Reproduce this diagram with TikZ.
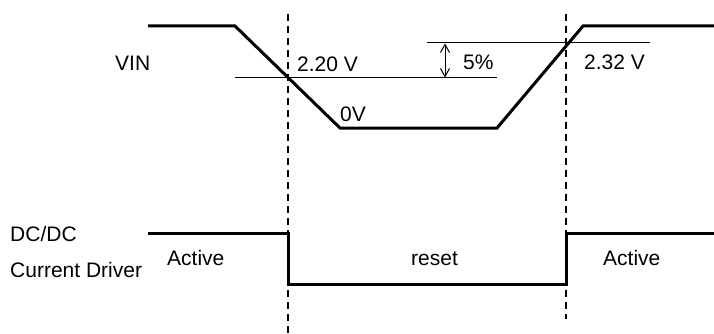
\documentclass[tikz,border=0pt]{standalone}
\usepackage{fontspec}
\setmainfont{Liberation Sans}
\usetikzlibrary{arrows.meta}
\begin{document}
\begin{tikzpicture}[x=1pt,y=-1pt,
  wave/.style={line width=3pt,line join=miter},
  thin/.style={line width=1pt},
  guide/.style={line width=1.4pt,dash pattern=on 7pt off 5pt},
  lbl/.style={anchor=base west,inner sep=0pt,font=\fontsize{21}{25}\selectfont},
  dim/.style={line width=1pt,{Straight Barb[length=8pt,width=9pt]}-{Straight Barb[length=8pt,width=9pt]}}]
\useasboundingbox (0,0) rectangle (714,334);
% VIN waveform points
\coordinate (v0) at (148,26);
\coordinate (v1) at (235,26);
\coordinate (v2) at (340,128);
\coordinate (v3) at (497,128);
\coordinate (v4) at (583,26);
\coordinate (v5) at (714,26);
\draw[wave] (v0) -- (v1) -- (v2) -- (v3) -- (v4) -- (v5);
% threshold lines
\coordinate (t1a) at (235,78);
\coordinate (t1b) at (497,78);
\coordinate (t2a) at (427,43);
\coordinate (t2b) at (650,43);
\draw[thin] (t1a) -- (t1b);
\draw[thin] (t2a) -- (t2b);
% 5% dimension arrow
\coordinate (d1) at (445,43.5);
\coordinate (d2) at (445,77.5);
\draw[dim] (d1) -- (d2);
% guide lines
\coordinate (g1a) at (288,14);
\coordinate (g1b) at (288,334);
\coordinate (g2a) at (566,14);
\coordinate (g2b) at (566,319);
\draw[guide] (g1a) -- (g1b);
\draw[guide] (g2a) -- (g2b);
% DC/DC waveform
\coordinate (w0) at (148,233);
\coordinate (w1) at (288,233);
\coordinate (w2) at (288,284);
\coordinate (w3) at (566,284);
\coordinate (w4) at (566,233);
\coordinate (w5) at (714,233);
\draw[wave] (w0) -- (w1) -- (w2) -- (w3) -- (w4) -- (w5);
% labels
\node[lbl] (vin) at (115,71) {VIN};
\node[lbl] (v220) at (297,71.5) {2.20 V};
\node[lbl] (pct) at (463,69.5) {5\%};
\node[lbl] (zero) at (340,121.5) {0V};
\node[lbl] (v232) at (584,70) {2.32 V};
\node[lbl] (dcdc) at (10,241.5) {DC/DC};
\node[lbl] (cdrv) at (10,277.5) {Current Driver};
\node[lbl] (act1) at (167,265) {Active};
\node[lbl] (rst) at (411,265) {reset};
\node[lbl] (act2) at (603,265) {Active};
\end{tikzpicture}
\end{document}
